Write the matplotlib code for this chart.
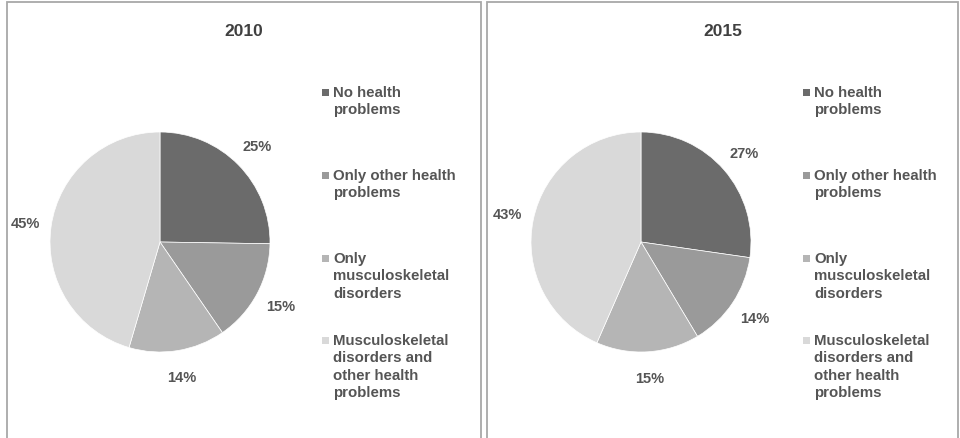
import matplotlib
matplotlib.use("Agg")
import matplotlib.pyplot as plt
from matplotlib.patches import Rectangle

plt.rcParams['font.family'] = ['Liberation Sans', 'DejaVu Sans']
plt.rcParams['font.weight'] = 'bold'

# Data
years = ["2010", "2015"]
categories = [
    "No health\nproblems",
    "Only other health\nproblems",
    "Only\nmusculoskeletal\ndisorders",
    "Musculoskeletal\ndisorders and\nother health\nproblems",
]
shares_2010 = [25, 15, 14, 45]
shares_2015 = [27, 14, 15, 43]
shares = [shares_2010, shares_2015]

colors = ["#6b6b6b", "#9a9a9a", "#b5b5b5", "#d9d9d9"]
text_color = "#555555"

W, H = 960, 439
fig = plt.figure(figsize=(W / 100, H / 100), dpi=100)
fig.patch.set_facecolor("white")


def fx(px):
    return px / W


def fy(py):
    # pixel row from top -> figure fraction from bottom
    return 1 - py / H


# panel frames (open at the bottom, cut by the figure edge)
panels = [(7, 481), (487, 958)]
for left, right in panels:
    fig.add_artist(Rectangle((fx(left), fy(H + 5)), fx(right - left), (H + 2) / H,
                             transform=fig.transFigure, fill=False,
                             edgecolor="#a8a8a8", linewidth=1.3))

pie_centers = [(160, 243), (641, 243)]
radius_px = 110
box = 300  # axes size in pixels
legend_rows = [93, 176, 259, 341]

for i, year in enumerate(years):
    cx, cy = pie_centers[i]
    ax = fig.add_axes([fx(cx - box / 2), fy(cy + box / 2), fx(box), box / H])
    lim = box / 2 / radius_px
    ax.pie(shares[i], colors=colors, startangle=90, counterclock=False,
           labels=[f"{v}%" for v in shares[i]], labeldistance=1.24,
           wedgeprops=dict(edgecolor="white", linewidth=0.5),
           textprops=dict(color=text_color, fontsize=10.5, fontweight="bold",
                          ha="center", va="center"))
    ax.set_xlim(-lim, lim)
    ax.set_ylim(-lim, lim)
    ax.set_aspect("equal")
    ax.axis("off")

    left, right = panels[i]
    fig.text(fx((left + right) / 2), fy(32), year, ha="center", va="center",
             fontsize=12.5, fontweight="bold", color="#404040")

    # legend
    for j, label in enumerate(categories):
        ry = legend_rows[j]
        mx = cx + 162
        fig.add_artist(Rectangle((fx(mx), fy(ry + 3.5)), fx(7), 7 / H,
                                 transform=fig.transFigure, facecolor=colors[j],
                                 edgecolor="none"))
        fig.text(fx(cx + 173), fy(ry - 7), label, ha="left", va="top",
                 fontsize=10.8, fontweight="bold", color=text_color,
                 linespacing=1.3)

fig.savefig("out.png", dpi=100)
